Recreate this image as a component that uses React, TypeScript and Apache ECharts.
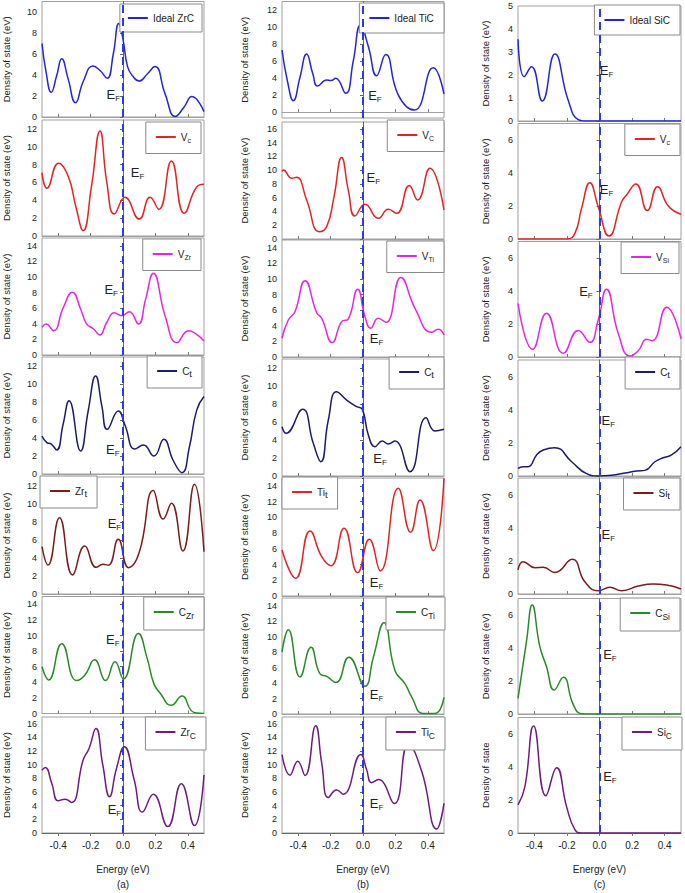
import React, { useEffect, useRef } from 'react';
import * as echarts from 'echarts';

// ---------- tick labels ----------
const energyTicks = [-0.4, -0.2, 0, 0.2, 0.4];
const ticks0to10 = [0, 2, 4, 6, 8, 10];
const ticks0to12 = [0, 2, 4, 6, 8, 10, 12];
const ticks0to14 = [0, 2, 4, 6, 8, 10, 12, 14];
const ticks0to16 = [0, 2, 4, 6, 8, 10, 12, 14, 16];
const ticks0to5 = [0, 1, 2, 3, 4, 5];
const ticks0to6 = [0, 2, 4, 6];

// ---------- (a) ZrC ----------
const aIdeal = [[-0.5,7.0],[-0.475,4.3],[-0.443,2.35],[-0.41,3.9],[-0.378,5.55],[-0.34,3.7],[-0.293,1.36],[-0.245,3.4],[-0.185,4.86],[-0.14,4.4],[-0.098,3.68],[-0.06,6.0],[-0.026,8.9],[0.0,7.4],[0.028,4.8],[0.06,3.9],[0.1,3.43],[0.15,4.1],[0.197,4.8],[0.26,2.2],[0.323,0.05],[0.375,0.9],[0.425,1.95],[0.5,0.5]];
const aVc = [[-0.5,7.1],[-0.47,5.35],[-0.398,8.15],[-0.337,6.65],[-0.29,3.2],[-0.246,0.6],[-0.195,5.5],[-0.142,11.77],[-0.1,6.0],[-0.053,2.47],[0.012,4.33],[0.1,1.9],[0.167,4.33],[0.221,2.99],[0.299,8.4],[0.378,2.54],[0.455,5.5],[0.5,5.8]];
const aVm = [[-0.5,3.55],[-0.476,3.97],[-0.429,3.12],[-0.37,6.0],[-0.313,8.04],[-0.26,5.8],[-0.225,4.0],[-0.18,3.3],[-0.144,2.56],[-0.1,4.2],[-0.053,5.43],[-0.008,5.04],[0.039,5.56],[0.095,3.97],[0.14,7.2],[0.187,10.47],[0.26,5.0],[0.333,1.58],[0.404,3.12],[0.45,2.7],[0.5,1.8]];
const aCt = [[-0.5,4.22],[-0.47,3.48],[-0.443,3.33],[-0.409,2.67],[-0.37,5.5],[-0.333,8.15],[-0.262,2.56],[-0.215,7.0],[-0.169,10.9],[-0.13,7.5],[-0.098,4.96],[-0.029,7.0],[0.012,5.44],[0.073,2.78],[0.126,3.22],[0.191,2.0],[0.252,3.85],[0.31,1.5],[0.364,0.15],[0.41,3.0],[0.455,7.1],[0.5,8.6]];
const aMt = [[-0.5,5.26],[-0.463,3.22],[-0.392,8.48],[-0.311,2.11],[-0.236,5.33],[-0.165,2.96],[-0.124,3.3],[-0.09,3.2],[-0.029,6.07],[0.034,2.93],[0.1,4.6],[0.187,11.5],[0.248,8.33],[0.299,10.07],[0.37,4.78],[0.441,12.19],[0.5,4.7]];
const aCm = [[-0.5,5.99],[-0.459,4.3],[-0.378,8.95],[-0.287,4.22],[-0.236,4.9],[-0.175,6.88],[-0.108,4.22],[-0.049,6.62],[0.002,4.43],[0.095,10.25],[0.15,7.0],[0.191,3.8],[0.232,2.53],[0.297,1.05],[0.364,2.24],[0.42,0.4],[0.455,0.05],[0.5,0.0]];
const aMc = [[-0.5,9.2],[-0.48,9.59],[-0.44,7.3],[-0.4,4.72],[-0.358,4.96],[-0.317,4.48],[-0.246,10.7],[-0.211,12.3],[-0.167,15.3],[-0.125,10.0],[-0.083,5.33],[-0.04,9.5],[0.008,12.65],[0.069,7.8],[0.12,3.07],[0.187,5.67],[0.276,0.94],[0.36,7.22],[0.441,1.09],[0.5,8.5]];

// ---------- (b) TiC ----------
const bIdeal = [[-0.5,7.3],[-0.465,3.5],[-0.43,1.33],[-0.39,4.0],[-0.348,6.82],[-0.31,4.5],[-0.28,3.06],[-0.224,3.76],[-0.198,3.7],[-0.169,3.96],[-0.107,2.2],[-0.06,6.0],[-0.015,10.24],[0.033,7.7],[0.084,4.27],[0.14,6.78],[0.218,2.0],[0.317,0.24],[0.434,5.2],[0.5,2.12]];
const bVc = [[-0.5,9.8],[-0.492,10.04],[-0.44,8.83],[-0.41,8.98],[-0.348,5.67],[-0.27,1.07],[-0.224,1.8],[-0.18,6.0],[-0.132,11.83],[-0.09,7.0],[-0.05,3.35],[0.012,5.04],[0.094,3.0],[0.156,4.32],[0.208,3.73],[0.286,7.76],[0.337,5.67],[0.413,10.28],[0.5,4.22]];
const bVm = [[-0.5,2.4],[-0.461,4.74],[-0.42,5.8],[-0.358,9.78],[-0.286,5.68],[-0.255,4.96],[-0.19,1.84],[-0.132,4.53],[-0.091,4.87],[-0.033,8.68],[0.012,5.2],[0.047,3.68],[0.094,4.96],[0.142,4.44],[0.234,10.2],[0.321,6.24],[0.424,3.16],[0.465,3.55],[0.5,2.82]];
const bCt = [[-0.5,5.48],[-0.475,4.74],[-0.373,7.41],[-0.307,3.63],[-0.26,1.59],[-0.214,6.22],[-0.163,9.37],[-0.101,8.44],[-0.039,7.7],[-0.004,7.4],[0.033,4.56],[0.074,3.26],[0.119,3.89],[0.156,3.56],[0.197,3.89],[0.29,0.48],[0.389,6.48],[0.444,5.0],[0.5,5.19]];
const bMt = [[-0.5,5.85],[-0.416,2.25],[-0.327,8.27],[-0.255,5.0],[-0.198,3.86],[-0.117,8.61],[-0.033,2.97],[0.039,7.21],[0.107,3.18],[0.218,13.7],[0.294,8.1],[0.352,12.2],[0.434,5.76],[0.5,14.97]];
const bCm = [[-0.5,8.0],[-0.461,10.9],[-0.389,4.79],[-0.321,8.63],[-0.266,5.21],[-0.224,4.87],[-0.167,4.06],[-0.087,7.35],[0.012,3.59],[0.064,7.35],[0.13,11.8],[0.197,5.64],[0.259,3.93],[0.3,2.22],[0.372,0.05],[0.444,0.05],[0.5,2.14]];
const bMc = [[-0.5,11.49],[-0.451,8.48],[-0.403,10.5],[-0.358,8.43],[-0.292,15.7],[-0.255,10.3],[-0.214,5.19],[-0.163,6.3],[-0.122,5.67],[-0.013,11.49],[0.022,9.3],[0.053,7.37],[0.095,7.85],[0.193,4.32],[0.28,13.0],[0.362,9.07],[0.455,0.58],[0.5,4.36]];

// ---------- (c) SiC ----------
const cIdeal = [[-0.5,3.55],[-0.462,1.93],[-0.417,2.36],[-0.351,0.87],[-0.274,2.91],[-0.192,0.9],[-0.13,0.06],[-0.08,0],[0.0,0],[0.2,0],[0.35,0],[0.5,0]];
const cVc = [[-0.5,0],[-0.35,0],[-0.2,0],[-0.151,0.34],[-0.11,1.86],[-0.059,3.41],[-0.008,1.96],[0.058,0.18],[0.136,2.26],[0.166,2.67],[0.223,3.33],[0.293,1.72],[0.356,3.17],[0.422,2.0],[0.5,1.5]];
const cVm = [[-0.5,3.25],[-0.41,0.47],[-0.325,2.65],[-0.222,0.22],[-0.13,1.6],[-0.059,0.89],[-0.008,2.24],[0.043,4.1],[0.115,1.43],[0.187,0.06],[0.238,0.38],[0.289,1.07],[0.324,0.99],[0.412,3.01],[0.5,1.1]];
const cCt = [[-0.5,0.46],[-0.468,0.56],[-0.437,0.56],[-0.386,1.27],[-0.345,1.57],[-0.274,1.71],[-0.171,0.86],[-0.079,0.14],[-0.008,0],[0.074,0.04],[0.156,0.18],[0.227,0.3],[0.279,0.34],[0.34,0.86],[0.391,1.1],[0.442,1.27],[0.5,1.77]];
const cMt = [[-0.5,1.45],[-0.468,1.95],[-0.396,1.59],[-0.345,1.61],[-0.274,1.3],[-0.167,2.09],[-0.09,0.74],[-0.008,0.2],[0.064,0.4],[0.136,0.2],[0.238,0.48],[0.33,0.6],[0.412,0.54],[0.5,0.3]];
const cCm = [[-0.5,0.95],[-0.447,4.48],[-0.413,6.6],[-0.366,4.08],[-0.325,2.87],[-0.278,1.45],[-0.222,2.22],[-0.161,0.57],[-0.11,0.02],[-0.05,0],[0.1,0],[0.3,0],[0.5,0]];
const cMc = [[-0.5,1.7],[-0.458,2.8],[-0.404,6.48],[-0.329,2.26],[-0.263,3.96],[-0.202,1.6],[-0.151,0.2],[-0.11,0],[-0.05,0],[0.1,0],[0.3,0],[0.5,0]];

// ---------- styling / layout ----------
const FONT = 'Liberation Sans, Arial, Helvetica, sans-serif';
const BLUE = '#2525d8';
const RED = '#e22424';
const MAGENTA = '#e426e4';
const NAVY = '#1c1c6c';
const MAROON = '#7a1c1c';
const GREEN = '#2a8a2a';
const PURPLE = '#6e1c7e';
const EF_COLOR = '#2a3ae8';

const COLS = [
  { left: 40, width: 164, nameGap: 31 },
  { left: 282, width: 162, nameGap: 33 },
  { left: 518, width: 163, nameGap: 28 },
];

type Panel = {
  id: string; label: string; color: string; data: number[][];
  yMin: number; yMax: number; ticks: number[]; col: number; row: number;
  top: number; bottom: number; leg: any; ef: number[]; yName?: string;
};

const panels: Panel[] = [
  { id: 'a1', label: 'Ideal ZrC', color: BLUE, data: aIdeal, yMin: 0, yMax: 11, ticks: ticks0to10, col: 0, row: 0, top: 1.5, bottom: 117, leg: { right: 483, top: 4 }, ef: [-0.06, 2.1] },
  { id: 'a2', label: 'V{s|c}', color: RED, data: aVc, yMin: 0, yMax: 13, ticks: ticks0to12, col: 0, row: 1, top: 120, bottom: 236, leg: { right: 484, top: 122 }, ef: [0.09, 7.1] },
  { id: 'a3', label: 'V{s|Zr}', color: MAGENTA, data: aVm, yMin: 0, yMax: 15, ticks: ticks0to14, col: 0, row: 2, top: 238, bottom: 355, leg: { right: 484, top: 239 }, ef: [-0.073, 8.4] },
  { id: 'a4', label: 'C{t|t}', color: NAVY, data: aCt, yMin: 0, yMax: 13, ticks: ticks0to12, col: 0, row: 3, top: 357, bottom: 474, leg: { right: 483, top: 356 }, ef: [-0.063, 2.7] },
  { id: 'a5', label: 'Zr{t|t}', color: MAROON, data: aMt, yMin: 0, yMax: 13, ticks: ticks0to12, col: 0, row: 4, top: 477, bottom: 594, leg: { left: 40, top: 476 }, ef: [-0.053, 7.8] },
  { id: 'a6', label: 'C{s2|Zr}', color: GREEN, data: aCm, yMin: 0, yMax: 15, ticks: ticks0to14, col: 0, row: 5, top: 596.5, bottom: 713.5, leg: { right: 481, top: 597 }, ef: [-0.063, 9.5] },
  { id: 'a7', label: 'Zr{s2|C}', color: PURPLE, data: aMc, yMin: 0, yMax: 17, ticks: ticks0to16, col: 0, row: 6, top: 717, bottom: 835, leg: { right: 479, top: 717 }, ef: [-0.053, 3.5] },

  { id: 'b1', label: 'Ideal TiC', color: BLUE, data: bIdeal, yMin: -0.7, yMax: 13, ticks: ticks0to12, col: 1, row: 0, top: 1.5, bottom: 118, leg: { right: 241, top: 3 }, ef: [0.074, 2.0] },
  { id: 'b2', label: 'V{s|C}', color: RED, data: bVc, yMin: 0, yMax: 17, ticks: ticks0to16, col: 1, row: 1, top: 122, bottom: 239, leg: { right: 241, top: 120 }, ef: [0.064, 9.0] },
  { id: 'b3', label: 'V{s|Ti}', color: MAGENTA, data: bVm, yMin: 0, yMax: 15, ticks: ticks0to14, col: 1, row: 2, top: 240, bottom: 357, leg: { right: 241, top: 241 }, ef: [0.084, 2.4] },
  { id: 'b4', label: 'C{t|t}', color: NAVY, data: bCt, yMin: 0, yMax: 13, ticks: ticks0to12, col: 1, row: 3, top: 359, bottom: 476, leg: { right: 241, top: 357 }, ef: [0.105, 2.0] },
  { id: 'b5', label: 'Ti{t|t}', color: RED, data: bMt, yMin: 0, yMax: 15, ticks: ticks0to14, col: 1, row: 4, top: 478, bottom: 596, leg: { left: 282, top: 477 }, ef: [0.084, 1.74] },
  { id: 'b6', label: 'C{s2|Ti}', color: GREEN, data: bCm, yMin: 0, yMax: 15, ticks: ticks0to14, col: 1, row: 5, top: 598, bottom: 714, leg: { right: 240, top: 597 }, ef: [0.084, 2.56] },
  { id: 'b7', label: 'Ti{s2|C}', color: PURPLE, data: bMc, yMin: 0, yMax: 17, ticks: ticks0to16, col: 1, row: 6, top: 717, bottom: 834, leg: { right: 240, top: 717 }, ef: [0.084, 4.36] },

  { id: 'c1', label: 'Ideal SiC', color: BLUE, data: cIdeal, yMin: 0, yMax: 5, ticks: ticks0to5, col: 2, row: 0, top: 6, bottom: 121, leg: { right: 5, top: 5 }, ef: [0.043, 2.19] },
  { id: 'c2', label: 'V{s|c}', color: RED, data: cVc, yMin: 0, yMax: 7, ticks: ticks0to6, col: 2, row: 1, top: 123.5, bottom: 239, leg: { right: 5, top: 124 }, ef: [0.043, 3.0] },
  { id: 'c3', label: 'V{s|Si}', color: MAGENTA, data: cVm, yMin: 0, yMax: 7, ticks: ticks0to6, col: 2, row: 2, top: 241.5, bottom: 357, leg: { right: 6, top: 242 }, ef: [-0.083, 3.96] },
  { id: 'c4', label: 'C{t|t}', color: NAVY, data: cCt, yMin: 0, yMax: 7, ticks: ticks0to6, col: 2, row: 3, top: 360, bottom: 476, leg: { right: 5, top: 357 }, ef: [0.054, 3.37] },
  { id: 'c5', label: 'Si{t|t}', color: MAROON, data: cMt, yMin: 0, yMax: 7, ticks: ticks0to6, col: 2, row: 4, top: 478, bottom: 594, leg: { right: 5, top: 478 }, ef: [0.054, 3.6] },
  { id: 'c6', label: 'C{s2|Si}', color: GREEN, data: cCm, yMin: 0, yMax: 7, ticks: ticks0to6, col: 2, row: 5, top: 598.5, bottom: 714, leg: { right: 5, top: 598 }, ef: [0.064, 3.6] },
  { id: 'c7', label: 'Si{s2|C}', color: PURPLE, data: cMc, yMin: 0, yMax: 7, ticks: ticks0to6, col: 2, row: 6, top: 717.5, bottom: 833, leg: { right: 3, top: 717 }, ef: [0.064, 3.45], yName: 'Density of state' },
];

const COL_TAGS = ['(a)', '(b)', '(c)'];

function buildOption() {
  const grid: any[] = [];
  const xAxis: any[] = [];
  const yAxis: any[] = [];
  const series: any[] = [];
  const legend: any[] = [];

  panels.forEach((p, i) => {
    const c = COLS[p.col];
    const isBottom = p.row === 6;
    grid.push({
      left: c.left, width: c.width, top: p.top, height: p.bottom - p.top,
      show: true, borderColor: '#a0a0a0', borderWidth: 1, containLabel: false,
    });
    xAxis.push({
      type: 'value', gridIndex: i, min: -0.5, max: 0.5,
      axisLine: { show: true, lineStyle: { color: isBottom ? '#666' : '#a0a0a0', width: 1 } },
      axisTick: { show: true, inside: !isBottom, length: 3, customValues: energyTicks, lineStyle: { color: '#777' } },
      axisLabel: {
        show: isBottom, customValues: energyTicks, margin: 7, fontSize: 10, color: '#222', fontFamily: FONT,
        formatter: (v: number) => v.toFixed(1),
      },
      splitLine: { show: false },
      name: isBottom ? 'Energy (eV)\n' + COL_TAGS[p.col] : '',
      nameLocation: 'middle', nameGap: 29,
      nameTextStyle: { fontSize: 10, color: '#222', fontFamily: FONT, lineHeight: 15, verticalAlign: 'top' },
    });
    yAxis.push({
      type: 'value', gridIndex: i, min: p.yMin, max: p.yMax,
      axisLine: { show: true, lineStyle: { color: '#666', width: 1 } },
      axisTick: { show: true, length: 3, customValues: p.ticks, lineStyle: { color: '#666' } },
      axisLabel: { customValues: p.ticks, margin: 5, fontSize: 9, color: '#222', fontFamily: FONT },
      splitLine: { show: false },
      name: p.yName || 'Density of state (eV)',
      nameLocation: 'middle', nameGap: c.nameGap,
      nameTextStyle: { fontSize: 9.5, color: '#222', fontFamily: FONT },
    });
    series.push({
      name: p.id, type: 'line', xAxisIndex: i, yAxisIndex: i,
      data: p.data, smooth: 0.5, symbol: 'none', showSymbol: false,
      lineStyle: { color: p.color, width: 1.5 }, itemStyle: { color: p.color },
      z: 2,
      markLine: {
        silent: true, symbol: 'none', animation: false,
        label: { show: false },
        lineStyle: { color: EF_COLOR, type: [8, 5], width: 2 },
        data: [{ xAxis: 0 }],
      },
      markPoint: {
        silent: true, animation: false,
        data: [{
          coord: p.ef, symbol: 'circle', symbolSize: 0,
          label: {
            show: true, position: 'inside', formatter: '{e|E}{f|F}',
            rich: {
              e: { fontSize: 13, color: '#222', fontFamily: FONT },
              f: { fontSize: 8, color: '#222', fontFamily: FONT, padding: [8, 0, 0, 0] },
            },
          },
        }],
      },
    });
    legend.push({
      ...p.leg,
      data: [{ name: p.id, icon: 'rect' }],
      orient: 'horizontal',
      formatter: () => p.label,
      itemWidth: 20, itemHeight: 2,
      padding: p.col === 0 && p.row === 0 ? [9, 8, 9, 8] : [10, 10, 10, 10],
      borderColor: '#8a8a8a', borderWidth: 1, backgroundColor: '#fff',
      selectedMode: false,
      textStyle: {
        fontSize: 10, color: '#222', fontFamily: FONT,
        rich: {
          s: { fontSize: 7, color: '#222', fontFamily: FONT, padding: [6, 0, 0, 0] },
          s2: { fontSize: 8.5, color: '#222', fontFamily: FONT, padding: [7, 0, 0, 0] },
          t: { fontSize: 9.5, color: '#222', fontFamily: FONT, padding: [4, 0, 0, 0] },
        },
      },
    });
  });

  return {
    animation: false,
    backgroundColor: '#ffffff',
    textStyle: { fontFamily: FONT },
    grid, xAxis, yAxis, series, legend,
  };
}

export default function App() {
  const ref = useRef<HTMLDivElement>(null);
  useEffect(() => {
    document.body.style.margin = '0';
    if (!ref.current) return;
    const chart = echarts.init(ref.current, undefined, { renderer: 'svg' });
    chart.setOption(buildOption() as any);
    return () => chart.dispose();
  }, []);
  return <div ref={ref} style={{ width: 685, height: 893 }} />;
}
